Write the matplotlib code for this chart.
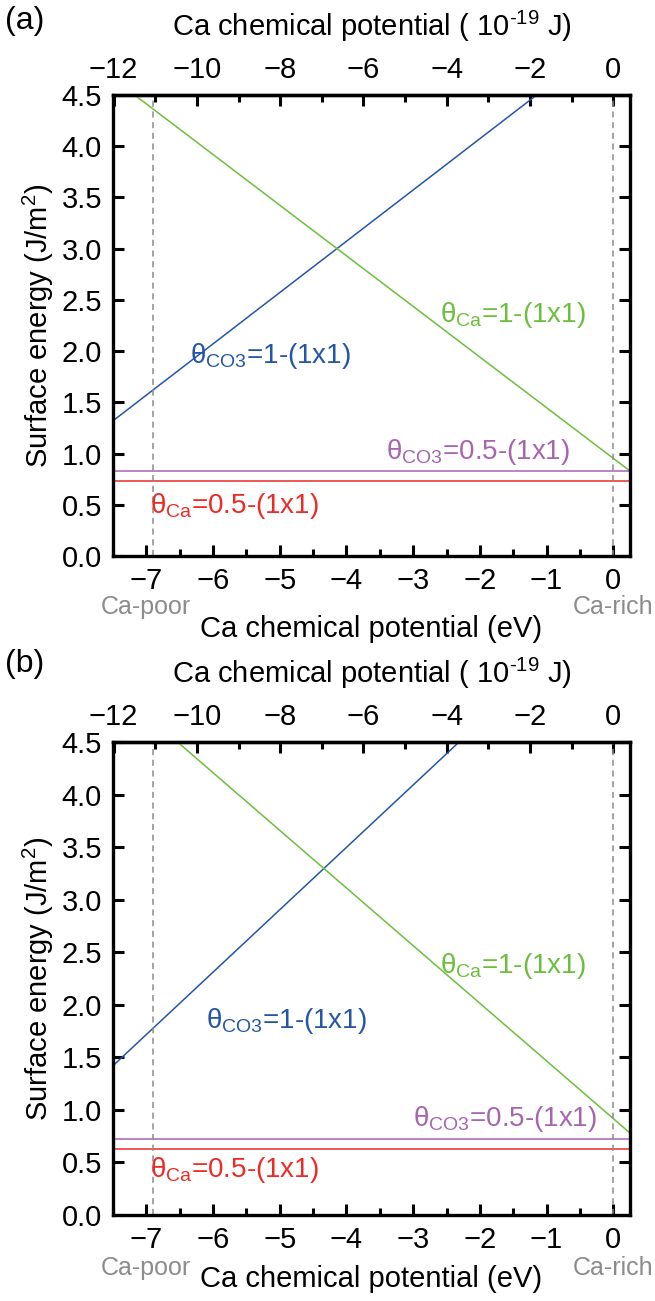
import numpy as np
import matplotlib
matplotlib.use('Agg')
import matplotlib.pyplot as plt
import matplotlib.ticker as mticker

plt.rcParams['font.family'] = ['Liberation Sans Narrow', 'Liberation Sans', 'DejaVu Sans']
plt.rcParams['mathtext.fontset'] = 'custom'
plt.rcParams['mathtext.rm'] = 'Liberation Sans'
plt.rcParams['mathtext.it'] = 'Liberation Sans:italic'

EV_TO_J = 1.602  # 1 eV = 1.602e-19 J

# Ca chemical potential (eV) at the two ends of the plotted range
mu_ends = [-7.5, 0.25]
poor_mu = -6.9
rich_mu = 0.0
top_ticks = [-12, -10, -8, -6, -4, -2, 0]

# surface energies (J/m^2) at the two ends, panel (a)
a_co3_1 = [1.32, 5.20]
a_ca_1 = [4.66, 0.83]
a_co3_05 = [0.83, 0.83]
a_ca_05 = [0.73, 0.73]

# panel (b)
b_co3_1 = [1.42, 6.02]
b_ca_1 = [5.03, 0.78]
b_co3_05 = [0.72, 0.72]
b_ca_05 = [0.63, 0.63]

c_blue = '#2356a8'
c_green = '#6cbf3c'
c_purple = '#a765b0'
c_red = '#ee2a24'
c_gray = '#8c8c8c'


def draw_panel(ax, co3_1, ca_1, co3_05, ca_05, lab_pos, note_y, xpad):
    ax.plot(mu_ends, co3_1, color=c_blue, lw=1.1)
    ax.plot(mu_ends, ca_1, color=c_green, lw=1.1)
    ax.plot(mu_ends, co3_05, color=c_purple, lw=1.1)
    ax.plot(mu_ends, ca_05, color=c_red, lw=1.1)
    ax.axvline(poor_mu, color=c_gray, ls=(0, (4, 3)), lw=1.1)
    ax.axvline(rich_mu, color=c_gray, ls=(0, (4, 3)), lw=1.1)

    ax.set_xlim(-7.5, 0.25)
    ax.set_ylim(0, 4.5)
    ax.xaxis.set_major_locator(mticker.MultipleLocator(1))
    ax.xaxis.set_minor_locator(mticker.MultipleLocator(0.5))
    ax.yaxis.set_major_locator(mticker.MultipleLocator(0.5))
    ax.yaxis.set_major_formatter(mticker.FormatStrFormatter('%.1f'))
    ax.tick_params(which='both', direction='in', labelsize=21, width=2.2,
                   right=True, pad=8)
    ax.tick_params(which='major', length=8)
    ax.tick_params(which='minor', length=5)
    for s in ax.spines.values():
        s.set_linewidth(2.4)
    ax.set_ylabel('Surface energy (J/m$^2$)', fontsize=21, labelpad=4)
    ax.set_xlabel('Ca chemical potential (eV)', fontsize=21, labelpad=xpad)

    # top axis in 10^-19 J
    top = ax.secondary_xaxis('top', functions=(lambda x: x * EV_TO_J,
                                               lambda x: x / EV_TO_J))
    top.xaxis.set_major_locator(mticker.FixedLocator(top_ticks))
    top.xaxis.set_minor_locator(mticker.FixedLocator(np.arange(-12, 1, 1)))
    top.tick_params(which='both', direction='in', labelsize=21, width=2.2, pad=8)
    top.tick_params(which='major', length=8)
    top.tick_params(which='minor', length=5)
    top.spines['top'].set_linewidth(2.4)
    top.set_xlabel(r'Ca chemical potential ( 10$^{\text{-19}}$ J)', fontsize=21,
                   labelpad=14)

    fs = 20
    ax.text(*lab_pos[0], r'θ$_{\mathrm{CO3}}$=1-(1x1)', color=c_blue, fontsize=fs)
    ax.text(*lab_pos[1], r'θ$_{\mathrm{Ca}}$=1-(1x1)', color=c_green, fontsize=fs)
    ax.text(*lab_pos[2], r'θ$_{\mathrm{CO3}}$=0.5-(1x1)', color=c_purple, fontsize=fs)
    ax.text(*lab_pos[3], r'θ$_{\mathrm{Ca}}$=0.5-(1x1)', color=c_red, fontsize=fs)

    ax.text(poor_mu - 0.1, note_y, 'Ca-poor', color=c_gray, fontsize=18,
            ha='center', va='center', transform=ax.get_xaxis_transform())
    ax.text(rich_mu, note_y, 'Ca-rich', color=c_gray, fontsize=18,
            ha='center', va='center', transform=ax.get_xaxis_transform())


fig = plt.figure(figsize=(6.55, 13.01), dpi=100)
ax_a = fig.add_axes([0.1725, 0.5726, 0.7893, 0.3544])
ax_b = fig.add_axes([0.1725, 0.0661, 0.7893, 0.3636])

draw_panel(ax_a, a_co3_1, a_ca_1, a_co3_05, a_ca_05,
           [(-6.35, 1.88), (-2.6, 2.28), (-3.4, 0.95), (-6.95, 0.42)], -0.11, 14)
draw_panel(ax_b, b_co3_1, b_ca_1, b_co3_05, b_ca_05,
           [(-6.1, 1.78), (-2.6, 2.3), (-3.0, 0.85), (-6.95, 0.36)], -0.112, 8)

fig.text(0.008, 0.984, '(a)', fontsize=23, va='center')
fig.text(0.008, 0.49, '(b)', fontsize=23, va='center')

fig.savefig('out.png', dpi=100)
